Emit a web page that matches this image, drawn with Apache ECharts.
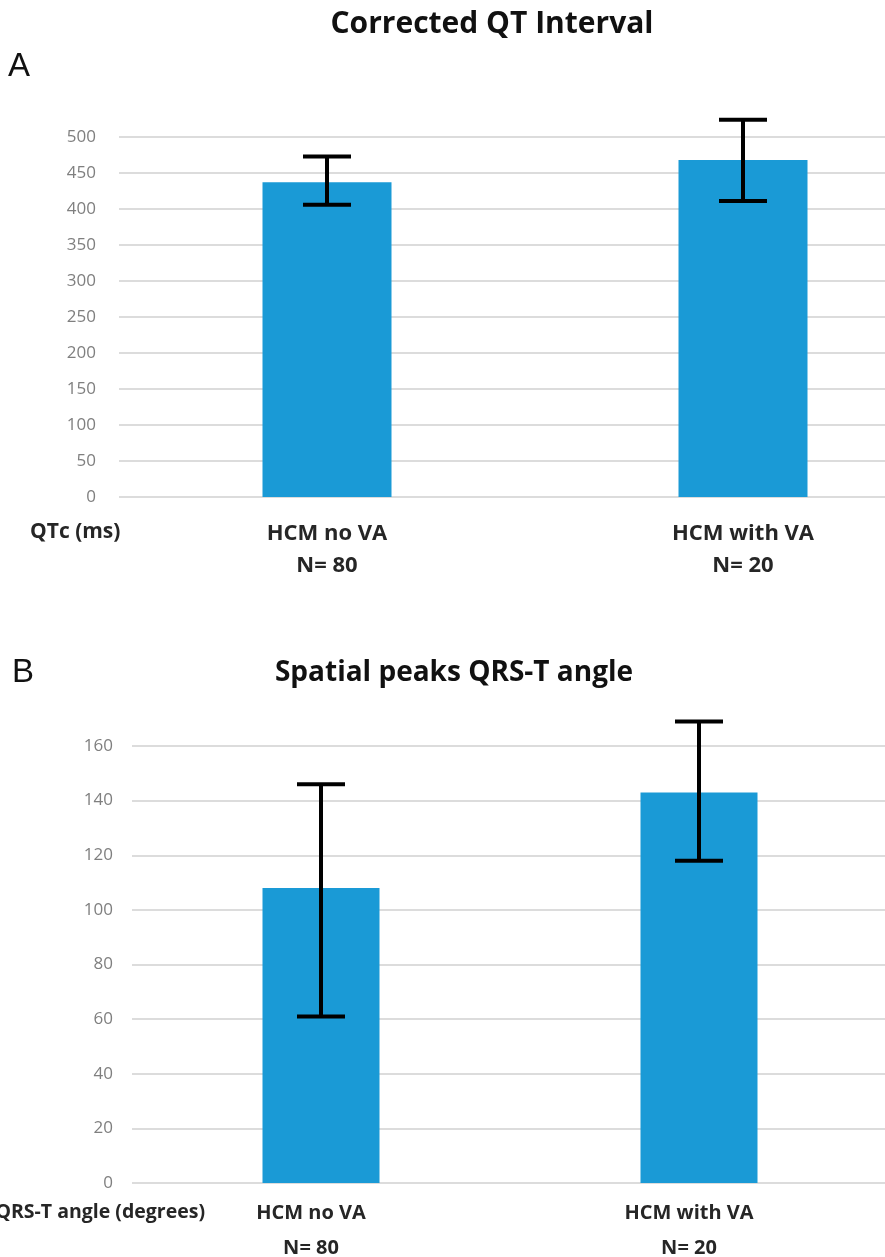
<!DOCTYPE html>
<html>
<head>
<meta charset="utf-8">
<script src="https://cdn.jsdelivr.net/npm/echarts@6/dist/echarts.min.js"></script>
<style>
  html, body { margin: 0; padding: 0; background: #ffffff; overflow: hidden; }
  /* canvas is wider than the page so the panel A plot area runs past the right edge */
  #chart { width: 960px; height: 1257px; }
</style>
</head>
<body>
<div id="chart"></div>
<script>
// Groups shown in both panels
const groups = ['HCM no VA', 'HCM with VA'];
const groupN = ['N= 80', 'N= 20'];

// Panel A: corrected QT interval (ms), mean with error-bar limits
const qtcMean = [437, 468];
const qtcLow = [406, 411];
const qtcHigh = [473, 524];
const qtcTicks = [0, 50, 100, 150, 200, 250, 300, 350, 400, 450, 500];

// Panel B: spatial peaks QRS-T angle (degrees), mean with error-bar limits
const angleMean = [108, 143];
const angleLow = [61, 118];
const angleHigh = [146, 169];
const angleTicks = [0, 20, 40, 60, 80, 100, 120, 140, 160];

const BAR = '#1a9ad6';
const GRID_LINE = '#dcdcdc';
const TICK_GRAY = '#7f7f7f';
const LABEL_DARK = '#262626';
const FONT = '"Open Sans", Lato, sans-serif';

const catLabels = groups.map((g, i) => g + '\n' + groupN[i]);

function errorBar(params, api) {
  const x = api.coord([api.value(0), api.value(1)])[0];
  const yLo = api.coord([api.value(0), api.value(1)])[1];
  const yHi = api.coord([api.value(0), api.value(2)])[1];
  const hw = 24;
  const st = { stroke: '#000000', lineWidth: 4 };
  return {
    type: 'group',
    children: [
      { type: 'line', shape: { x1: x, y1: yHi, x2: x, y2: yLo }, style: st },
      { type: 'line', shape: { x1: x - hw, y1: yHi, x2: x + hw, y2: yHi }, style: st },
      { type: 'line', shape: { x1: x - hw, y1: yLo, x2: x + hw, y2: yLo }, style: st }
    ]
  };
}

function valueAxis(gridIndex, ticks, margin, size) {
  return {
    type: 'value',
    gridIndex: gridIndex,
    min: ticks[0],
    max: ticks[ticks.length - 1],
    interval: ticks[1] - ticks[0],
    axisLine: { show: false },
    axisTick: { show: false },
    axisLabel: { color: TICK_GRAY, fontFamily: FONT, fontSize: size, margin: margin },
    splitLine: { lineStyle: { color: GRID_LINE, width: 2 } }
  };
}

function categoryAxis(gridIndex, size, margin, lineHeight, padding) {
  return {
    type: 'category',
    gridIndex: gridIndex,
    data: catLabels,
    axisLine: { show: false },
    axisTick: { show: false },
    axisLabel: {
      color: LABEL_DARK,
      fontFamily: FONT,
      fontWeight: 'bold',
      fontSize: size,
      lineHeight: lineHeight,
      margin: margin,
      padding: padding,
      interval: 0
    }
  };
}

const chart = echarts.init(document.getElementById('chart'), null, { renderer: 'canvas' });

chart.setOption({
  animation: false,
  backgroundColor: '#ffffff',
  grid: [
    { left: 119, top: 137, width: 832, height: 360, outerBoundsMode: 'none', containLabel: false },
    { left: 132, top: 746, width: 756, height: 437, outerBoundsMode: 'none', containLabel: false }
  ],
  xAxis: [
    categoryAxis(0, 22, 21, 32, [0, 0, 0, 0]),
    categoryAxis(1, 20, 13, 35, [0, 20, 0, 0])
  ],
  yAxis: [
    valueAxis(0, qtcTicks, 23, 17),
    valueAxis(1, angleTicks, 19, 17)
  ],
  series: [
    {
      type: 'bar', xAxisIndex: 0, yAxisIndex: 0,
      data: qtcMean, barWidth: 129,
      itemStyle: { color: BAR }
    },
    {
      type: 'custom', xAxisIndex: 0, yAxisIndex: 0,
      renderItem: errorBar,
      encode: { x: 0, y: [1, 2] },
      data: groups.map((g, i) => [i, qtcLow[i], qtcHigh[i]]),
      clip: false,
      z: 5
    },
    {
      type: 'bar', xAxisIndex: 1, yAxisIndex: 1,
      data: angleMean, barWidth: 117,
      itemStyle: { color: BAR }
    },
    {
      type: 'custom', xAxisIndex: 1, yAxisIndex: 1,
      renderItem: errorBar,
      encode: { x: 0, y: [1, 2] },
      data: groups.map((g, i) => [i, angleLow[i], angleHigh[i]]),
      clip: false,
      z: 5
    }
  ],
  graphic: [
    { type: 'text', left: 8, top: 50, style: { text: 'A', font: '33px "Liberation Sans", Arial, sans-serif', fill: '#111111' } },
    { type: 'text', x: 492, y: 24, style: { text: 'Corrected QT Interval', font: 'bold 30px ' + FONT, fill: '#111111', textAlign: 'center', textVerticalAlign: 'middle' } },
    { type: 'text', x: 30, y: 532, style: { text: 'QTc (ms)', font: 'bold 21px ' + FONT, fill: LABEL_DARK, textAlign: 'left', textVerticalAlign: 'middle' } },
    { type: 'text', left: 12, top: 656, style: { text: 'B', font: '33px "Liberation Sans", Arial, sans-serif', fill: '#111111' } },
    { type: 'text', x: 454, y: 673, style: { text: 'Spatial peaks QRS-T angle', font: 'bold 28px ' + FONT, fill: '#111111', textAlign: 'center', textVerticalAlign: 'middle' } },
    { type: 'text', x: 205, y: 1212, style: { text: 'QRS-T angle (degrees)', font: 'bold 19.5px ' + FONT, fill: LABEL_DARK, textAlign: 'right', textVerticalAlign: 'middle' } }
  ]
});
</script>
</body>
</html>
